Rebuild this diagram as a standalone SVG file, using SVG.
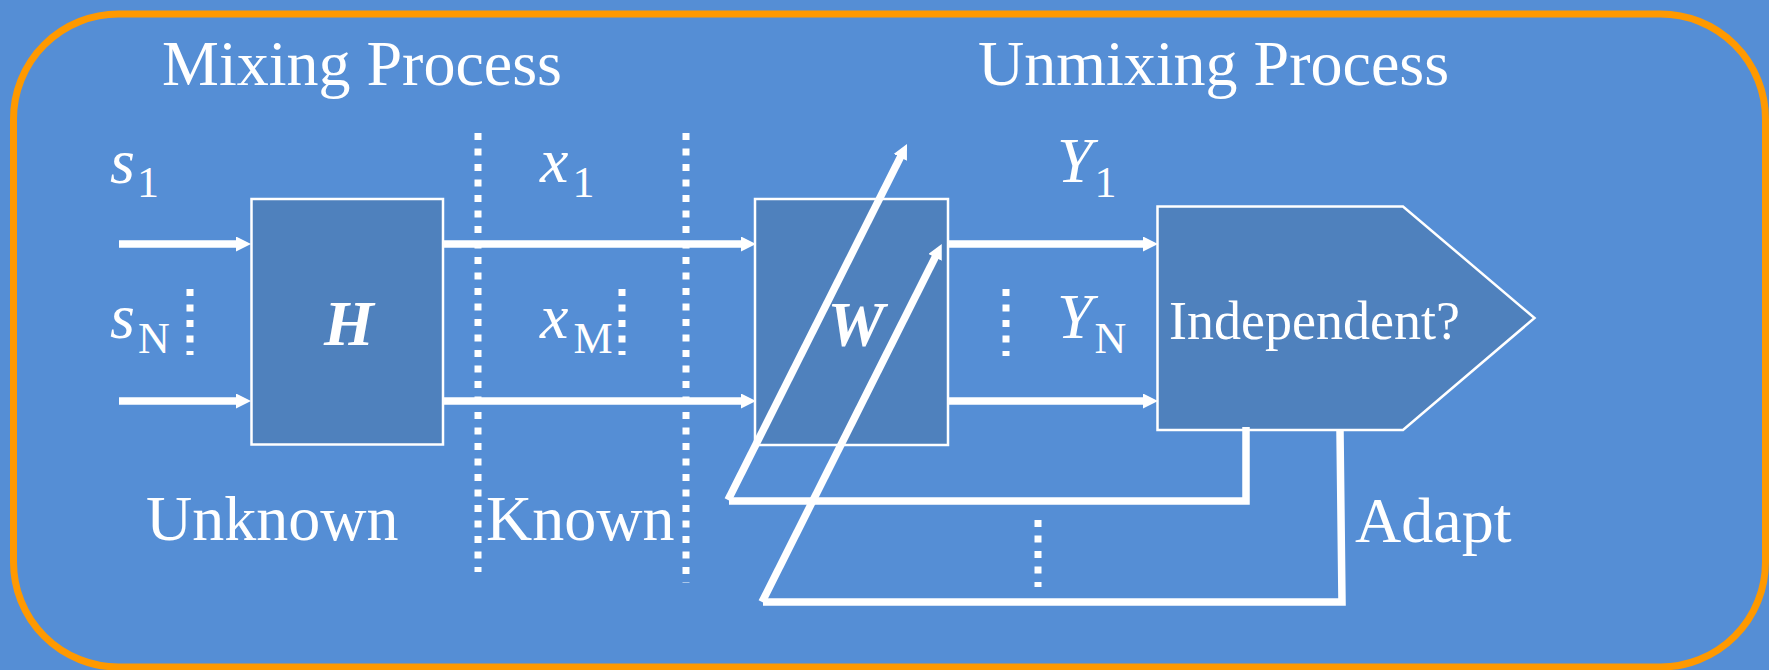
<svg xmlns="http://www.w3.org/2000/svg" width="1769" height="670" viewBox="0 0 1769 670">
<style>
.t{font-family:"Liberation Serif","Times New Roman",serif;fill:#fff;font-size:64px}
.it{font-style:italic}
.sub{font-style:normal;font-size:44px}
.box{fill:#4F81BD;stroke:#fff;stroke-width:2.5}
.ln{stroke:#fff;stroke-width:7.5;fill:none}
.dot{stroke:#fff;stroke-width:7;stroke-dasharray:7 8.5;fill:none}
</style>
<defs>
<marker id="ah" markerUnits="userSpaceOnUse" markerWidth="16" markerHeight="16" refX="3" refY="7.5" orient="auto">
<path d="M0,0 L15,7.5 L0,15 z" fill="#fff"/>
</marker>
</defs>
<rect x="0" y="0" width="1769" height="670" fill="#558ED5"/>
<rect id="frame" x="13.5" y="14" width="1752" height="653" rx="105" ry="105" fill="#558ED5" stroke="#FF9900" stroke-width="7"/>

<g id="titles">
<text class="t" x="162" y="85">Mixing Process</text>
<text class="t" x="978" y="85">Unmixing Process</text>
<text class="t" x="146" y="540">Unknown</text>
<text class="t" x="486" y="540">Known</text>
<text class="t" x="1355" y="542">Adapt</text>
</g>

<g id="node-H">
<rect class="box" x="251.5" y="199" width="191.5" height="245.5"/>
<text class="t" x="349" y="345" text-anchor="middle" font-weight="bold" font-style="italic">H</text>
</g>
<g id="node-W">
<rect class="box" x="755" y="199" width="193" height="246"/>
<text class="t" x="856" y="346" text-anchor="middle" font-weight="bold" font-style="italic">W</text>
</g>
<g id="node-independent">
<path class="box" d="M1157.5,206.5 H1403 L1534.5,318 L1403,430 H1157.5 Z"/>
<text class="t" x="1169" y="339" font-size="54" style="font-size:54px">Independent?</text>
</g>

<g id="labels">
<text class="t" x="110" y="183"><tspan class="it">s</tspan><tspan class="sub" dx="2" dy="14">1</tspan></text>
<text class="t" x="110" y="338"><tspan class="it">s</tspan><tspan class="sub" dx="3" dy="15">N</tspan></text>
<text class="t" x="540" y="182"><tspan class="it">x</tspan><tspan class="sub" dx="4" dy="15">1</tspan></text>
<text class="t" x="540" y="338"><tspan class="it">x</tspan><tspan class="sub" dx="5" dy="15">M</tspan></text>
<text class="t" x="1057" y="182"><tspan class="it">Y</tspan><tspan class="sub" dx="2" dy="15">1</tspan></text>
<text class="t" x="1057" y="338"><tspan class="it">Y</tspan><tspan class="sub" dx="2" dy="15">N</tspan></text>
</g>

<g id="dividers">
<line class="dot" x1="478" y1="133" x2="478" y2="572"/>
<line class="dot" x1="686" y1="133" x2="686" y2="583"/>
<line class="dot" x1="190" y1="289" x2="190" y2="355"/>
<line class="dot" x1="622" y1="289" x2="622" y2="355"/>
<line class="dot" x1="1006" y1="289" x2="1006" y2="356"/>
<line class="dot" x1="1038" y1="520" x2="1038" y2="587"/>
</g>

<g id="connectors">
<line class="ln" x1="119" y1="244" x2="239" y2="244" marker-end="url(#ah)"/>
<line class="ln" x1="119" y1="401" x2="239" y2="401" marker-end="url(#ah)"/>
<line class="ln" x1="443" y1="244" x2="744" y2="244" marker-end="url(#ah)"/>
<line class="ln" x1="443" y1="401" x2="744" y2="401" marker-end="url(#ah)"/>
<line class="ln" x1="948" y1="244" x2="1146" y2="244" marker-end="url(#ah)"/>
<line class="ln" x1="948" y1="401" x2="1146" y2="401" marker-end="url(#ah)"/>
<polyline class="ln" points="1246,427 1246,501 729,501"/>
<polyline class="ln" points="1340,431 1342,602 763,602"/>
<line class="ln" x1="728" y1="500" x2="901.6" y2="154.7" marker-end="url(#ah)"/>
<line class="ln" x1="762" y1="602" x2="936.4" y2="254.7" marker-end="url(#ah)"/>
</g>
</svg>
